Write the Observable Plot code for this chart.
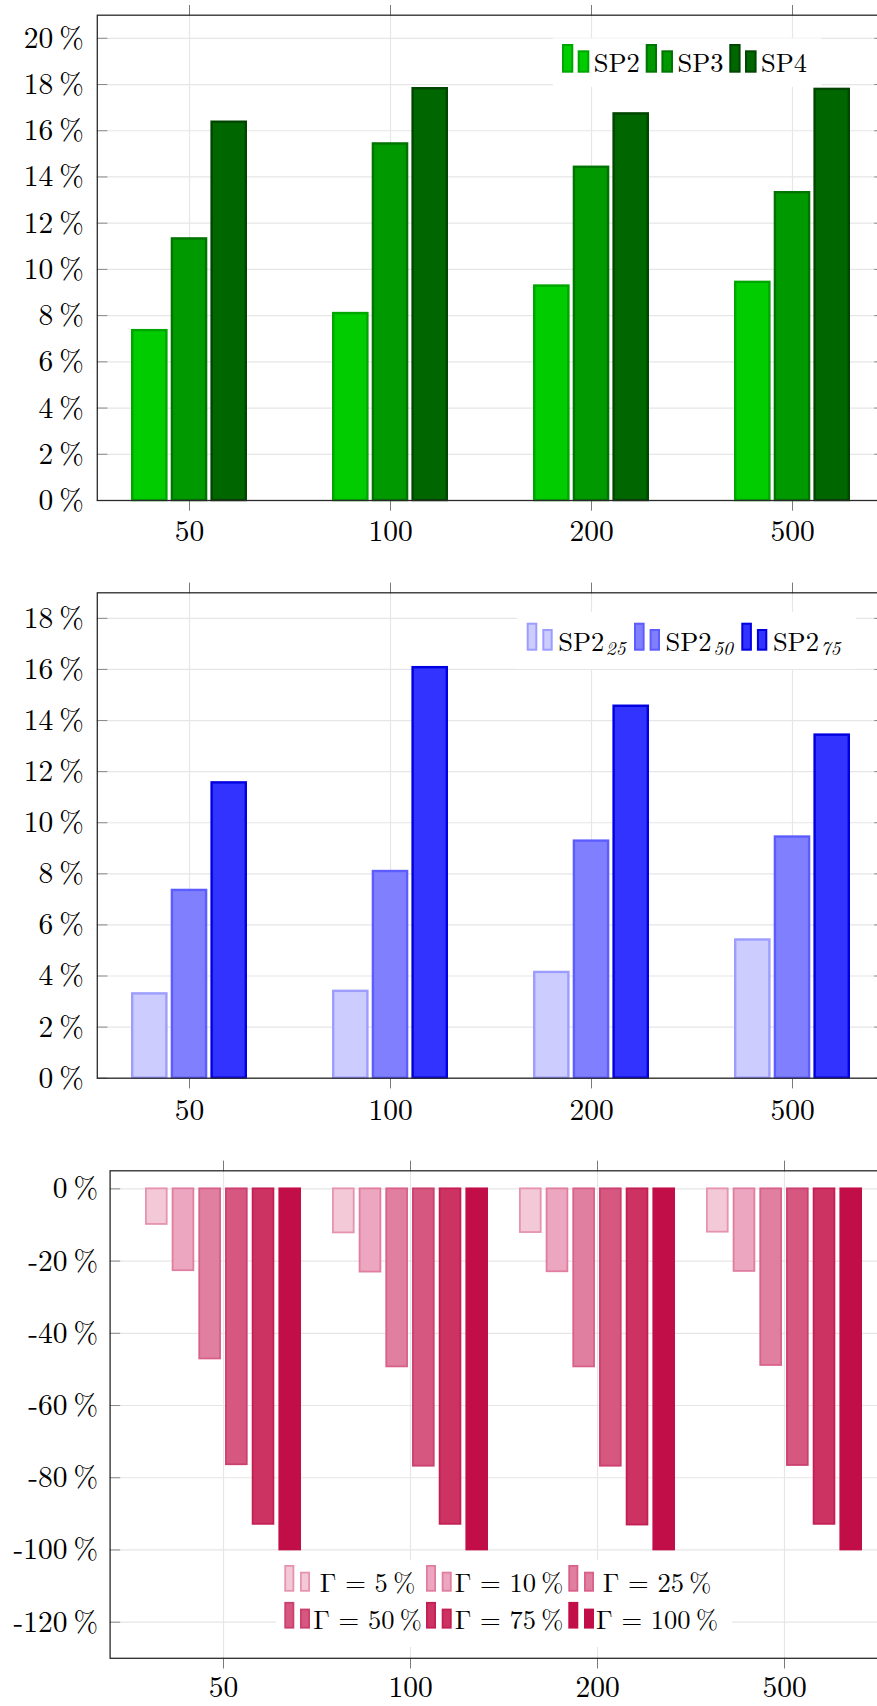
<!DOCTYPE html>
<html>
<head>
<meta charset="utf-8">
<script src="https://cdn.jsdelivr.net/npm/d3@7"></script>
<script src="https://cdn.jsdelivr.net/npm/@observablehq/plot@0.6"></script>
<style>
  html, body { margin: 0; padding: 0; background: #fff; }
  body { width: 877px; height: 1706px; overflow: hidden; position: relative; font-family: "Latin Modern Roman", serif; }
  .chart { position: absolute; left: 0; }
  #legends { position: absolute; left: 0; top: 0; pointer-events: none; }
</style>
</head>
<body>
<div id="c1" class="chart" style="top:0px"></div>
<div id="c2" class="chart" style="top:580px"></div>
<div id="c3" class="chart" style="top:1150px"></div>
<script>
// ---------- data ----------
const groups = ["50", "100", "200", "500"];

// chart 1
const spNames = ["SP2", "SP3", "SP4"];
const sp2 = [7.35, 8.09, 9.28, 9.44];
const sp3 = [11.32, 15.43, 14.42, 13.32];
const sp4 = [16.37, 17.82, 16.73, 17.79];
const spFills = ["#00cc00", "#009900", "#006600"];
const spStrokes = ["#00a600", "#007400", "#004600"];
const yTicks1 = [0, 2, 4, 6, 8, 10, 12, 14, 16, 18, 20];

// chart 2
const sp2qNames = ["25", "50", "75"];
const sp2q25 = [3.30, 3.40, 4.14, 5.41];
const sp2q50 = [7.35, 8.09, 9.28, 9.44];
const sp2q75 = [11.56, 16.07, 14.56, 13.43];
const qFills = ["#ccccff", "#8080ff", "#3333ff"];
const qStrokes = ["#9d9dff", "#5c5cff", "#0000e0"];
const yTicks2 = [0, 2, 4, 6, 8, 10, 12, 14, 16, 18];

// chart 3
const gammaNames = ["5", "10", "25", "50", "75", "100"];
const gamma5 = [-9.85, -12.2, -12.1, -12.0];
const gamma10 = [-22.66, -23.05, -22.96, -22.86];
const gamma25 = [-47.1, -49.3, -49.3, -48.9];
const gamma50 = [-76.4, -76.8, -76.8, -76.6];
const gamma75 = [-92.9, -92.9, -93.1, -92.9];
const gamma100 = [-100, -100, -100, -100];
const gFills = ["#f3c9d7", "#eca6bf", "#e07f9f", "#d6577f", "#cc3363", "#c20e48"];
const gStrokes = ["#e693b0", "#e07ea0", "#d96189", "#cc4070", "#c41f55", "#c20e48"];
const yTicks3 = [0, -20, -40, -60, -80, -100, -120];

// ---------- helpers ----------
function groupedBars(values, fills, strokes, pitch, sw) {
  const n = values.length;
  return values.map((vals, i) =>
    Plot.barY(groups.map((g, j) => ({group: g, value: vals[j]})), {
      x: "group", y: "value",
      fill: fills[i], stroke: strokes[i], strokeWidth: sw,
      insetLeft: i * pitch + sw / 2,
      insetRight: (n - 1 - i) * pitch + sw / 2
    })
  );
}

function makeChart(o) {
  return Plot.plot({
    width: o.width, height: o.height,
    marginLeft: o.ml, marginRight: o.mr, marginTop: o.mt, marginBottom: o.mb,
    style: "font-family: 'Latin Modern Roman', serif; font-size: 29.5px; background: transparent; max-width: none; overflow: visible; color: #000;",
    x: {type: "band", domain: groups, paddingInner: o.pi, paddingOuter: o.po, align: 0.5, label: null},
    y: {domain: o.yDomain, label: null},
    marks: [
      Plot.ruleY(o.yTicks, {stroke: "#e6e6e6", strokeWidth: 1.2}),
      Plot.ruleX(groups, {stroke: "#e6e6e6", strokeWidth: 1.2}),
      ...o.bars,
      Plot.axisX({anchor: "top", tickSize: 10.7, stroke: "#7a7a7a", fill: "none", label: null}),
      Plot.axisX({anchor: "bottom", tickSize: 10.7, stroke: "#7a7a7a", fill: "none", label: null}),
      Plot.axisX({anchor: "bottom", tickSize: 0, tickPadding: o.xPad, fill: "#000", label: null}),
      Plot.axisY(o.yTicks, {anchor: "left", tickSize: 10.6, dx: 10.6, stroke: "#8a8a8a", fill: "none", label: null}),
      Plot.axisY(o.yTicks, {anchor: "right", tickSize: 10.6, dx: -10.6, stroke: "#8a8a8a", fill: "none", label: null}),
      Plot.axisY(o.yTicks, {anchor: "left", tickSize: 0, tickPadding: o.yPad, fill: "#000", tickFormat: d => `${d}\u2009%`, label: null}),
      Plot.frame({stroke: "#2a2a2a", strokeWidth: 1.3})
    ]
  });
}

// ---------- charts ----------
document.getElementById("c1").append(makeChart({
  width: 890, height: 570, ml: 96.8, mr: 6.2, mt: 14.7, mb: 70,
  pi: 0.424, po: 0.161, yDomain: [0, 21], yTicks: yTicks1, xPad: 20, yPad: 13.5,
  bars: groupedBars([sp2, sp3, sp4], spFills, spStrokes, 39.7, 2.4)
}));

document.getElementById("c2").append(makeChart({
  width: 890, height: 560, ml: 96.8, mr: 6.2, mt: 12.3, mb: 62.3,
  pi: 0.424, po: 0.161, yDomain: [0, 19], yTicks: yTicks2, xPad: 21, yPad: 13.5,
  bars: groupedBars([sp2q25, sp2q50, sp2q75], qFills, qStrokes, 39.7, 2.4)
}));

document.getElementById("c3").append(makeChart({
  width: 905, height: 556, ml: 109.6, mr: 7.1, mt: 20.3, mb: 48.2,
  pi: 0.1638, po: 0.185, yDomain: [-130, 5], yTicks: yTicks3, xPad: 18, yPad: 12,
  bars: groupedBars([gamma5, gamma10, gamma25, gamma50, gamma75, gamma100], gFills, gStrokes, 26.68, 1.8)
}));

// ---------- legends (overlay SVG, placed in page coordinates) ----------
const svg = d3.select("body").append("svg")
  .attr("id", "legends").attr("width", 877).attr("height", 1706)
  .style("font-family", "'Latin Modern Roman', serif");

function legendBox(x, y, w, h) {
  svg.append("rect").attr("x", x).attr("y", y).attr("width", w).attr("height", h).attr("fill", "#fff");
}
// outer box of a swatch bar: left, top, width, height (stroke drawn inside)
function bar(x, y, w, h, fill, stroke, sw) {
  svg.append("rect")
    .attr("x", x + sw / 2).attr("y", y + sw / 2)
    .attr("width", w - sw).attr("height", h - sw)
    .attr("fill", fill).attr("stroke", stroke).attr("stroke-width", sw);
}

// legend 1
legendBox(553, 38.3, 268.7, 48.4);
[562, 645.7, 729.3].forEach((x0, i) => {
  bar(x0, 44, 11.3, 28.7, spFills[i], spStrokes[i], 2);
  bar(x0 + 15.7, 50.3, 11.6, 22.4, spFills[i], spStrokes[i], 2);
  svg.append("text").attr("x", x0 + 31.8).attr("y", 71.7)
    .attr("font-size", 26.5).text(spNames[i]);
});

// legend 2
legendBox(517, 612, 339, 57);
[526.7, 634, 741.3].forEach((x0, i) => {
  bar(x0, 622.7, 10.6, 28, qFills[i], qStrokes[i], 2);
  bar(x0 + 15.6, 629, 10.4, 21.7, qFills[i], qStrokes[i], 2);
  const t = svg.append("text").attr("x", x0 + 31.6).attr("y", 650.7).attr("font-size", 26.5);
  t.append("tspan").text("SP2");
  t.append("tspan").attr("font-style", "italic").attr("font-size", 19.5)
    .attr("dx", 1.5).attr("dy", 4.5).text(sp2qNames[i]);
});

// legend 3
legendBox(276, 1560, 456, 87);
{
  const cols = [284.3, 426, 568.3];
  const centers = [367.5, 509, 657];
  const tops = [1565, 1601.9];
  gammaNames.forEach((n, i) => {
    const r = Math.floor(i / 3), c = i % 3;
    const x0 = cols[c], y0 = tops[r];
    bar(x0, y0, 10, 26.7, gFills[i], gStrokes[i], 1.8);
    bar(x0 + 15.7, y0 + 6.7, 10, 20, gFills[i], gStrokes[i], 1.8);
    svg.append("text").attr("x", centers[c]).attr("y", y0 + 26.6)
      .attr("text-anchor", "middle").attr("font-size", 26.5)
      .text(`\u0393 = ${n}\u2009%`);
  });
}
</script>
</body>
</html>
